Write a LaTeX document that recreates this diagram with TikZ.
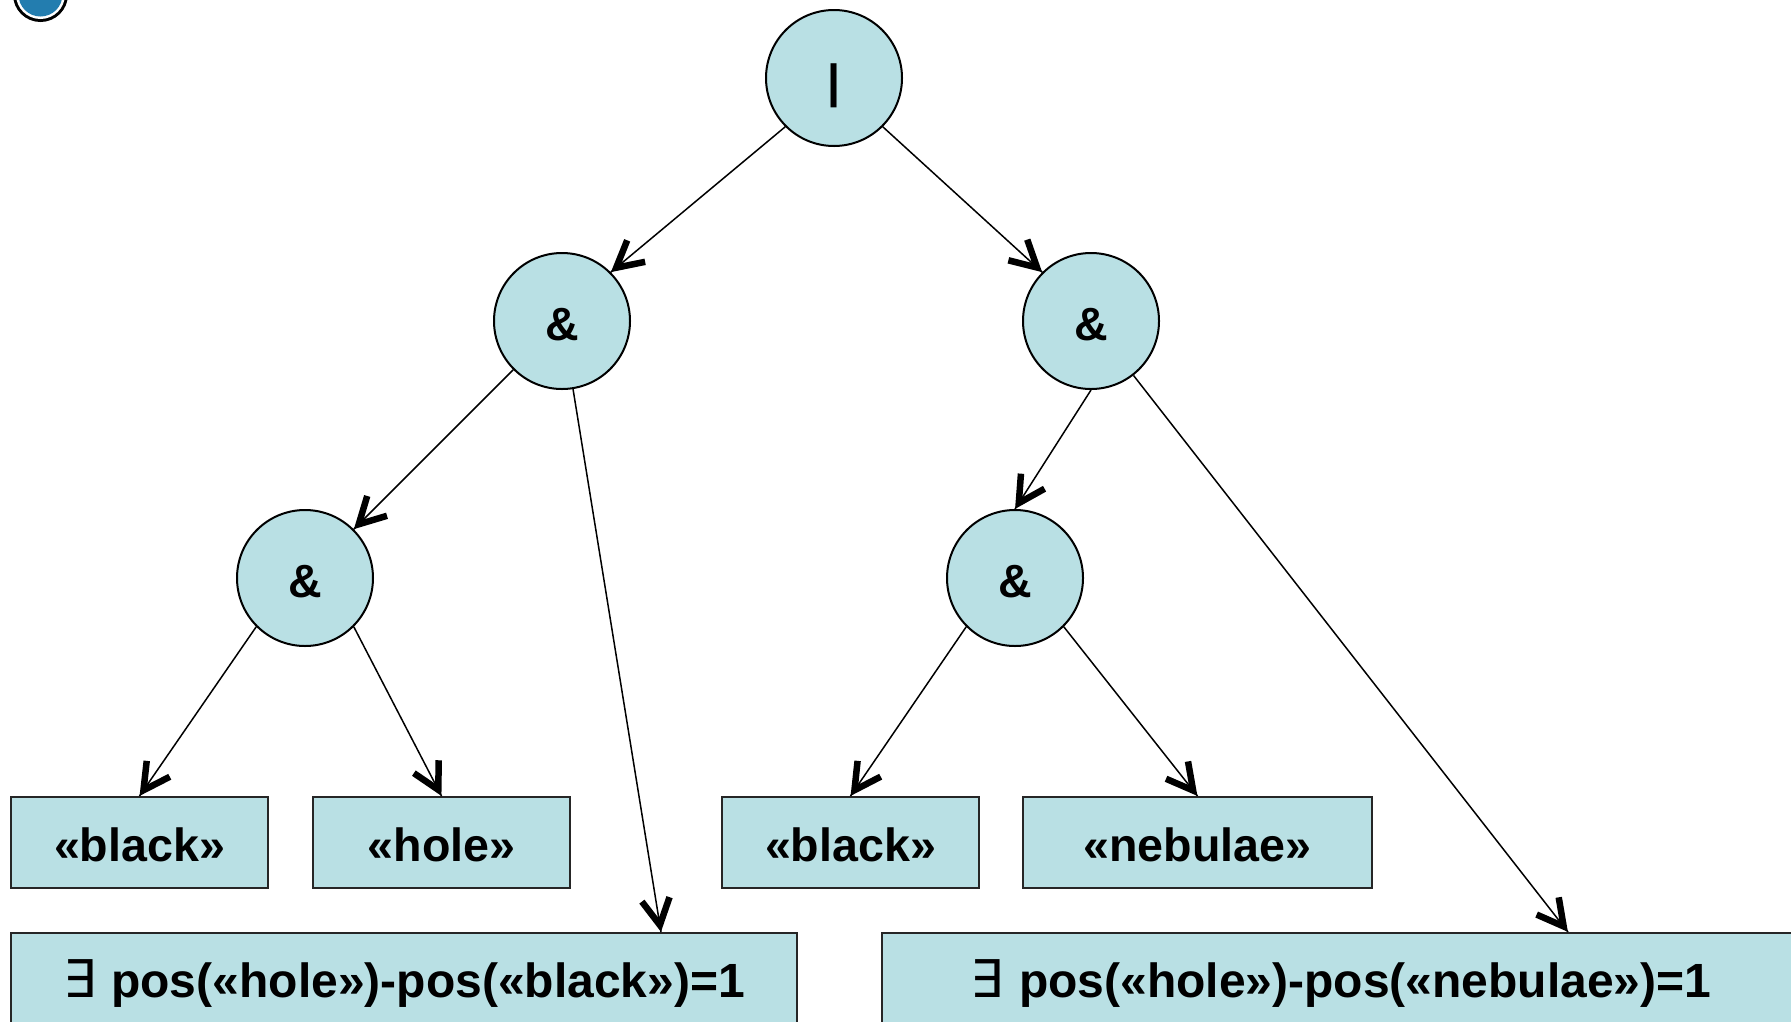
\documentclass[tikz,border=0pt]{standalone}
\usepackage{fontspec}
\setmainfont{Liberation Sans}
\newfontfamily\symfont{DejaVu Sans}
\usetikzlibrary{decorations.markings}
\definecolor{nodefill}{RGB}{185,224,228}
\definecolor{bulletblue}{RGB}{35,125,175}
\begin{document}
\begin{tikzpicture}[x=1pt,y=-1pt,
  opnode/.style={circle,draw=black,line width=2pt,fill=nodefill,minimum size=136pt,inner sep=0pt,
    text height=38pt,text depth=0pt,font=\fontsize{46.6}{56}\selectfont\bfseries},
  wordbox/.style={rectangle,draw=black!85,line width=2pt,fill=nodefill,minimum height=91pt,inner sep=0pt,
    text height=38pt,text depth=0pt,font=\fontsize{46.6}{56}\selectfont\bfseries},
  formulabox/.style={wordbox,font=\fontsize{48}{58}\selectfont\bfseries},
  barb/.style={line width=6.5pt,line cap=butt,line join=miter},
  link/.style={line width=1.5pt,postaction={decorate},
    decoration={markings,mark=at position 1 with {%
      \draw[barb] (-33pt,14pt) -- (-7pt,0pt) -- (-33pt,-14pt);}}}]
\useasboundingbox (0,0) rectangle (1791,1021);
\clip (0,0) rectangle (1791,1021);
% bullet decoration
\fill[black] (40.5,-5.5) circle (27.5pt);
\fill[white] (40.5,-5.5) circle (24.5pt);
\fill[bulletblue] (40.5,-5.5) circle (22pt);
% operator nodes
\node[opnode] (root) at (834,78) {|};
\node[opnode] (L) at (562,321) {\&};
\node[opnode] (R) at (1091,321) {\&};
\node[opnode] (LL) at (305,578) {\&};
\node[opnode] (RL) at (1015,578) {\&};
% word boxes
\node[wordbox,minimum width=257pt] (b1) at (139.5,842.5) {«black»};
\node[wordbox,minimum width=257pt] (b2) at (441.5,842.5) {«hole»};
\node[wordbox,minimum width=257pt] (b3) at (850.5,842.5) {«black»};
\node[wordbox,minimum width=349pt] (b4) at (1197.5,842.5) {«nebulae»};
\node[formulabox,minimum width=786pt] (bl) at (404,978.5) {{\symfont\mdseries\fontsize{52}{58}\selectfont ∃}\hspace{2pt} pos(«hole»)-pos(«black»)=1};
\node[formulabox,minimum width=918pt] (br) at (1341,978.5) {{\symfont\mdseries\fontsize{52}{58}\selectfont ∃}\hspace{2pt} pos(«hole»)-pos(«nebulae»)=1};
% connectors
\draw[link] (root.south west) -- (L.north east);
\draw[link] (root.south east) -- (R.north west);
\draw[link] (L.south west) -- (LL.north east);
\draw[link] (L) -- ([xshift=257pt]bl.north);
\draw[link] (LL.south west) -- (b1.north);
\draw[link] (LL.south east) -- (b2.north);
\draw[link] (R.south) -- (RL.north);
\draw[link] (R) -- ([xshift=227pt]br.north);
\draw[link] (RL.south west) -- (b3.north);
\draw[link] (RL.south east) -- (b4.north);
\end{tikzpicture}
\end{document}
